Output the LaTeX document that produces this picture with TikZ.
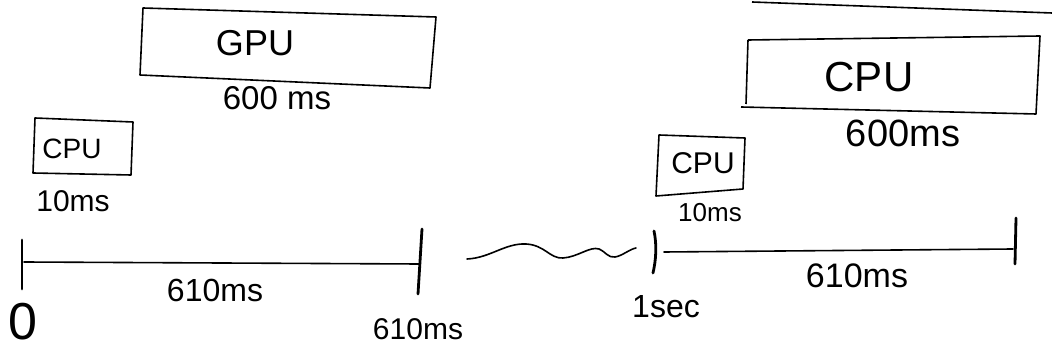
\documentclass[tikz,border=0pt]{standalone}
\usepackage{fontspec}
\setmainfont{Liberation Sans}
\begin{document}
\begin{tikzpicture}[x=1pt,y=-1pt,
  txt/.style={inner sep=0pt, font=\fontsize{#1}{#1}\selectfont},
  boxline/.style={line width=1.6pt, line join=round},
  tick/.style={line width=2.8pt, line cap=round},
  axis/.style={line width=1.6pt, line cap=round}]
\useasboundingbox (0,0) rectangle (1052,352);
% GPU box
\draw[boxline] (143,8) -- (436,17) -- (430,88) -- (140,75) -- cycle;
\node[txt=36] (gpu) at (255,43) {GPU};
\node[txt=33] (gpuT) at (277,98) {600 ms};
% small CPU box (left)
\draw[boxline] (35,118) -- (133,122) -- (131,175) -- (33,173) -- cycle;
\node[txt=28] (cpu1) at (72,149) {CPU};
\node[txt=30] (cpu1T) at (73,201) {10ms};
% right big box
\draw[boxline] (748,40) -- (1040,36) -- (1036,114) -- (741,107);
\draw[boxline] (748,40) -- (746,104);
\node[txt=42] (cpu3) at (869,77) {CPU};
\node[txt=38] (cpu3T) at (903,133) {600ms};
% right small box
\draw[boxline] (659,135) -- (745,138) -- (743,189) -- (656,196) -- cycle;
\node[txt=30] (cpu2) at (703,163) {CPU};
\node[txt=26] (cpu2T) at (710,213) {10ms};
% partial box edge, top right
\coordinate (tr1) at (752,2);
\coordinate (tr2) at (1052,13);
\draw[boxline] (tr1) -- (tr2);
% left timeline
\coordinate (t0a) at (22,240);
\coordinate (t0b) at (22,289);
\coordinate (t1a) at (422,229);
\coordinate (t1b) at (418,294);
\coordinate (l0) at (24,262);
\coordinate (l1) at (419,264);
\draw[tick] (t0a) -- (t0b);
\draw[tick] (t1a) -- (t1b);
\draw[axis] (l0) -- (l1);
\node[txt=32] (d1) at (215,290) {610ms};
\node[txt=52] (zero) at (23,322) {0};
\node[txt=30] (m610) at (418,329) {610ms};
% wavy break
\coordinate (w0) at (467,259);
\coordinate (w1) at (636,248);
\draw[axis] (w0) .. controls (490,258) and (505,243) .. (526,244)
  .. controls (545,245) and (550,259) .. (563,258)
  .. controls (578,257) and (590,246) .. (599,249)
  .. controls (606,252) and (608,258) .. (615,257)
  .. controls (622,256) and (630,249) .. (w1);
% right timeline
\coordinate (t2a) at (654,231);
\coordinate (t2b) at (653,273);
\coordinate (t3a) at (1016,218);
\coordinate (t3b) at (1015,264);
\coordinate (l2) at (664,252);
\coordinate (l3) at (1013,249);
\draw[tick] (t2a) .. controls (657,245) and (656,260) .. (t2b);
\draw[tick] (t3a) -- (t3b);
\draw[axis] (l2) -- (l3);
\node[txt=32] (sec) at (666,307) {1sec};
\node[txt=34] (d2) at (857,276) {610ms};
\end{tikzpicture}
\end{document}
